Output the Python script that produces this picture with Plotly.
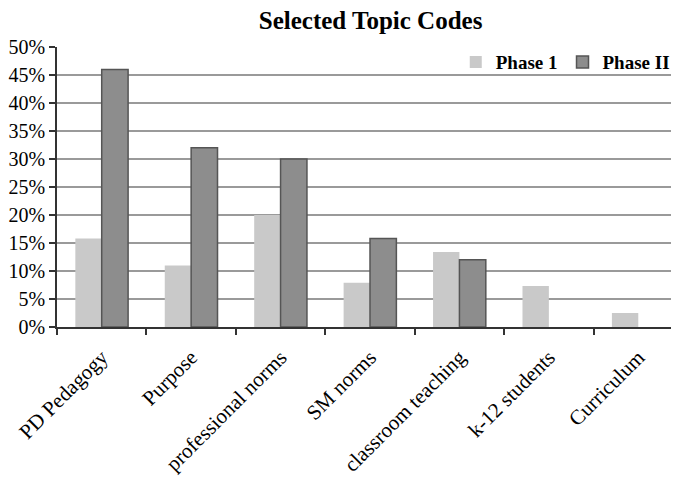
import plotly.graph_objects as go

categories = ["PD Pedagogy", "Purpose", "professional norms", "SM norms",
              "classroom teaching", "k-12 students", "Curriculum"]
phase1 = [0.158, 0.11, 0.20, 0.079, 0.134, 0.073, 0.025]
phase2 = [0.46, 0.32, 0.30, 0.158, 0.12, None, None]

font_family = "Liberation Serif, Times New Roman, serif"

fig = go.Figure()
fig.add_trace(go.Bar(name="<b>Phase 1</b>", x=categories, y=phase1,
                     marker=dict(color="#c9c9c9", line=dict(color="#c9c9c9", width=0))))
fig.add_trace(go.Bar(name="<b>Phase II</b>", x=categories, y=phase2,
                     marker=dict(color="#8d8d8d", line=dict(color="#555555", width=1.5))))

fig.update_layout(
    width=679, height=482,
    margin=dict(l=49, r=4, t=39, b=163),
    paper_bgcolor="white", plot_bgcolor="white",
    barmode="group", bargap=0.41, bargroupgap=0,
    title=dict(text="<b>Selected Topic Codes</b>", x=0.534, xanchor="center",
               y=0.975, yanchor="middle",
               font=dict(family=font_family, size=25, color="black")),
    font=dict(family=font_family, color="black"),
    legend=dict(orientation="h", x=0.637, xanchor="left", y=0.946, yanchor="middle",
                font=dict(family=font_family, size=19, color="black"),
                bgcolor="rgba(0,0,0,0)", itemwidth=30, traceorder="normal"),
    showlegend=True,
)
fig.update_xaxes(
    automargin=False,
    showline=True, linecolor="#333333", linewidth=1.5,
    ticks="outside", tickson="boundaries", ticklen=6, tickcolor="#333333", tickwidth=1.5,
    tickangle=-45, tickfont=dict(family=font_family, size=21, color="black"),
    ticklabelstandoff=8, ticklabelshift=0,
    showgrid=False,
)
fig.update_yaxes(
    automargin=False,
    range=[0, 0.5], dtick=0.05, tickformat=".0%",
    showline=True, linecolor="#333333", linewidth=1.5,
    ticks="outside", ticklen=6, tickcolor="#333333", tickwidth=1.5,
    showgrid=True, gridcolor="#9a9a9a", gridwidth=1.5,
    tickfont=dict(family=font_family, size=20, color="black"),
    zeroline=False,
)

fig.write_html("out.html")
